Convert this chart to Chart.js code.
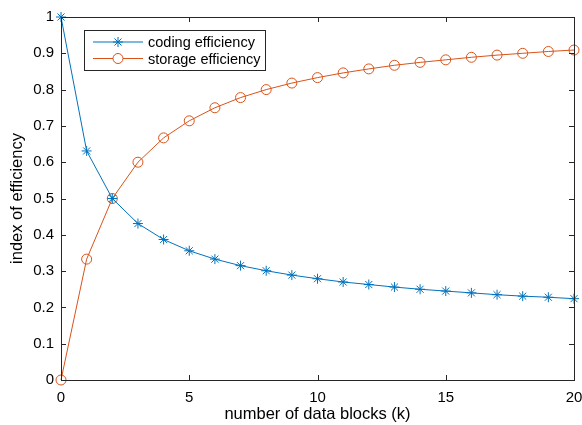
<!DOCTYPE html>
<html>
<head>
<meta charset="utf-8">
<script src="https://cdn.jsdelivr.net/npm/chart.js@4/dist/chart.umd.min.js"></script>
<style>
  html, body { margin: 0; padding: 0; background: #fff; }
  #wrap { width: 582px; height: 425px; }
</style>
</head>
<body>
<div id="wrap"><canvas id="eff"></canvas></div>
<script>
// number of data blocks k
const blocks = [0, 1, 2, 3, 4, 5, 6, 7, 8, 9, 10, 11, 12, 13, 14, 15, 16, 17, 18, 19, 20];
const coding = [1.0, 0.631, 0.5, 0.431, 0.387, 0.356, 0.333, 0.315, 0.301, 0.289, 0.279,
                0.270, 0.263, 0.256, 0.25, 0.245, 0.240, 0.235, 0.231, 0.228, 0.224];
const storage = [0.0, 0.333, 0.5, 0.6, 0.667, 0.714, 0.75, 0.778, 0.8, 0.818, 0.833,
                 0.846, 0.857, 0.867, 0.875, 0.882, 0.889, 0.895, 0.9, 0.905, 0.909];
const seriesNames = ["coding efficiency", "storage efficiency"];
const xTicks = [0, 5, 10, 15, 20];
const yTicks = [0, 0.1, 0.2, 0.3, 0.4, 0.5, 0.6, 0.7, 0.8, 0.9, 1];

const BLUE = "#0072BD";
const ORANGE = "#D95319";
const AXIS = "#262626";
const FONT = "'Liberation Sans', Arial, sans-serif";

const pts = ys => blocks.map((k, i) => ({ x: k, y: ys[i] }));

// box + inward ticks on all four sides, and the legend inside the axes
const matlabBox = {
  id: "matlabBox",
  afterDatasetsDraw(chart) {
    const { ctx, chartArea: a, scales } = chart;
    ctx.save();
    ctx.strokeStyle = AXIS;
    ctx.lineWidth = 1;
    ctx.strokeRect(a.left + 0.5, a.top + 0.5, a.right - a.left, a.bottom - a.top);
    const len = 5;
    ctx.beginPath();
    xTicks.forEach(v => {
      const px = Math.round(scales.x.getPixelForValue(v)) + 0.5;
      ctx.moveTo(px, a.bottom); ctx.lineTo(px, a.bottom - len);
      ctx.moveTo(px, a.top); ctx.lineTo(px, a.top + len);
    });
    yTicks.forEach(v => {
      const py = Math.round(scales.y.getPixelForValue(v)) + 0.5;
      ctx.moveTo(a.left, py); ctx.lineTo(a.left + len, py);
      ctx.moveTo(a.right, py); ctx.lineTo(a.right - len, py);
    });
    ctx.stroke();
    ctx.restore();
  },
  afterDraw(chart) {
    const { ctx } = chart;
    const bx = 84, by = 30, bw = 181, bh = 40;
    ctx.save();
    ctx.fillStyle = "#fff";
    ctx.fillRect(bx, by, bw, bh);
    ctx.strokeStyle = AXIS;
    ctx.lineWidth = 1;
    ctx.strokeRect(bx + 0.5, by + 0.5, bw, bh);
    chart.data.datasets.forEach((ds, i) => {
      const y = by + 12 + i * 16.5;
      ctx.strokeStyle = ds.borderColor;
      ctx.lineWidth = 1;
      ctx.beginPath();
      ctx.moveTo(93, y); ctx.lineTo(143, y);
      ctx.stroke();
      ctx.fillStyle = "#fff";
      Chart.helpers.drawPoint(ctx, {
        pointStyle: ds.pointStyle, radius: ds.pointRadius, borderWidth: 1
      }, 118, y);
      ctx.fillStyle = "#000";
      ctx.font = "14.5px " + FONT;
      ctx.textBaseline = "middle";
      ctx.fillText(ds.label, 148, y + 1);
    });
    ctx.restore();
  }
};

new Chart(document.getElementById("eff"), {
  type: "line",
  data: {
    datasets: [
      {
        label: seriesNames[0], data: pts(coding),
        borderColor: BLUE, backgroundColor: "transparent", borderWidth: 1,
        pointStyle: "star", pointRadius: 5, pointBorderColor: BLUE, pointBorderWidth: 1,
        clip: false
      },
      {
        label: seriesNames[1], data: pts(storage),
        borderColor: ORANGE, backgroundColor: "transparent", borderWidth: 1,
        pointStyle: "circle", pointRadius: 5, pointBorderColor: ORANGE,
        pointBackgroundColor: "transparent", pointBorderWidth: 1,
        clip: false
      }
    ]
  },
  options: {
    responsive: true,
    maintainAspectRatio: false,
    animation: false,
    layout: { padding: { top: 17, right: 8, left: 0, bottom: 0 } },
    plugins: { legend: { display: false }, tooltip: { enabled: false } },
    scales: {
      x: {
        type: "linear", min: 0, max: 20,
        afterBuildTicks: s => { s.ticks = xTicks.map(v => ({ value: v })); },
        afterFit: s => { s.height = 45; s.paddingLeft = 0; s.paddingRight = 0; },
        grid: { display: false, drawTicks: false },
        border: { display: false },
        ticks: { color: "#000", font: { size: 15, family: FONT }, padding: 9 },
        title: {
          display: true, text: "number of data blocks (k)", color: "#000",
          font: { size: 16.5, family: FONT }, padding: { top: 0, bottom: 1 }
        }
      },
      y: {
        type: "linear", min: 0, max: 1,
        afterBuildTicks: s => { s.ticks = yTicks.map(v => ({ value: v })); },
        afterFit: s => { s.width = 61; s.paddingTop = 0; s.paddingBottom = 0; },
        grid: { display: false, drawTicks: false },
        border: { display: false },
        ticks: {
          color: "#000", font: { size: 15, family: FONT }, padding: 7,
          callback: v => String(Math.round(v * 10) / 10)
        },
        title: {
          display: true, text: "index of efficiency", color: "#000",
          font: { size: 16.5, family: FONT }, padding: { top: 8, bottom: 0 }
        }
      }
    }
  },
  plugins: [matlabBox]
});
</script>
</body>
</html>
